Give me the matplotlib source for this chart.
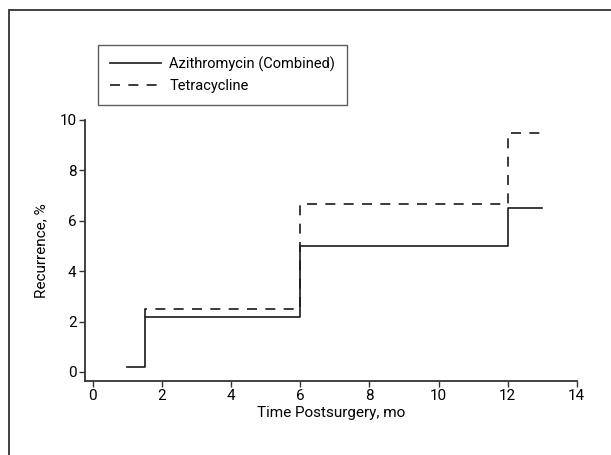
import matplotlib.pyplot as plt
from matplotlib.patches import Rectangle

plt.rcParams['font.family'] = ['Roboto', 'DejaVu Sans']

# Data
azi_time = [1, 1.5, 6, 12, 13]
azi_rec = [0.2, 2.2, 5.0, 6.5, 6.5]
tet_time = [1.5, 1.5, 6, 12, 13]
tet_rec = [2.2, 2.5, 6.65, 9.5, 9.5]
xticks = [0, 2, 4, 6, 8, 10, 12, 14]
yticks = [0, 2, 4, 6, 8, 10]

fig = plt.figure(figsize=(6.11, 4.55), dpi=100)
ax = fig.add_axes([0.139, 0.1626, 0.805, 0.5737])

ax.step(azi_time, azi_rec, where='post', color='#1a1a1a', lw=1.2,
        label='Azithromycin (Combined)')
ax.step(tet_time, tet_rec, where='post', color='#1a1a1a', lw=1.2,
        dashes=(6, 5), label='Tetracycline')

ax.set_xlim(-0.23, 14)
ax.set_ylim(-0.36, 10)
ax.set_xticks(xticks)
ax.set_yticks(yticks)
ax.spines['top'].set_visible(False)
ax.spines['right'].set_visible(False)
for s in ['left', 'bottom']:
    ax.spines[s].set_color('#333333')
    ax.spines[s].set_linewidth(1.3)
ax.tick_params(direction='out', length=4, width=1, color='#333333',
               labelsize=11, pad=2)

ax.set_xlabel('Time Postsurgery, mo', fontsize=11, labelpad=2)
ax.set_ylabel('Recurrence, %', fontsize=11, labelpad=8)

leg = fig.legend(loc='upper left', bbox_to_anchor=(98 / 611, 1 - 45 / 455),
                 fontsize=10.5, frameon=True, fancybox=False, handlelength=3.5,
                 borderpad=0.8, labelspacing=0.5, handletextpad=0.6,
                 borderaxespad=0)
leg.get_frame().set_edgecolor('#333333')
leg.get_frame().set_linewidth(1.0)

# outer frame
fig.patches.append(Rectangle((9 / 611, -0.1), 1.1, 1 - 10 / 455 + 0.1,
                             transform=fig.transFigure, fill=False,
                             edgecolor='#333333', lw=1.3))

fig.savefig('out.png', dpi=100)
